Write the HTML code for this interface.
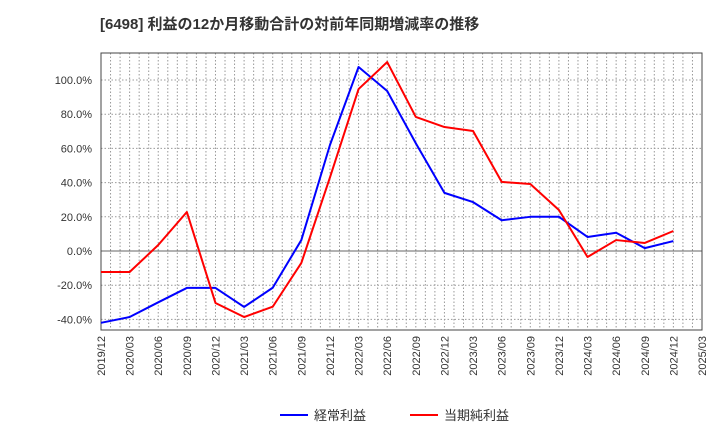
<!DOCTYPE html>
<html><head><meta charset="utf-8"><style>
body{margin:0;background:#fff;}
svg text{font-family:"Liberation Sans","Noto Sans CJK JP",sans-serif;}
</style></head><body>
<svg id="c" width="720" height="440" xmlns="http://www.w3.org/2000/svg">
<text x="100" y="29" font-size="15" font-weight="bold" fill="#333">[6498]  利益の12か月移動合計の対前年同期増減率の推移</text>
<g id="grid"></g><g id="axes"></g><g id="series"></g>
<g>
<line x1="280" y1="415" x2="308" y2="415" stroke="#0000ff" stroke-width="2"/>
<text x="314" y="420" font-size="13" fill="#333">経常利益</text>
<line x1="410" y1="415" x2="438" y2="415" stroke="#ff0000" stroke-width="2"/>
<text x="444" y="420" font-size="13" fill="#333">当期純利益</text>
</g>
</svg>
<script>
const categories=["2019/12","2020/03","2020/06","2020/09","2020/12","2021/03","2021/06","2021/09","2021/12","2022/03","2022/06","2022/09","2022/12","2023/03","2023/06","2023/09","2023/12","2024/03","2024/06","2024/09","2024/12","2025/03"];
const ordinaryProfit=[-42,-38.6,-30,-21.6,-21.6,-32.7,-21.5,6.4,62,107.6,93.6,63,34,28.6,18,20,20,8.2,10.7,1.7,5.8];
const netProfit=[-12.3,-12.3,3.5,22.8,-30.4,-38.6,-32.6,-7,43,94.7,110.5,78.4,72.5,70.2,40.4,39.2,24,-3.5,6.4,4.7,11.7];
const yTicks=[-40,-20,0,20,40,60,80,100];
const L=101,R=702,T=53,B=330,yMin=-46.2,yMax=115.8;
const NS="http://www.w3.org/2000/svg";
const xq=i=>L+i*(R-L)/(categories.length-1);
const y=v=>B-(v-yMin)/(yMax-yMin)*(B-T);
function mk(tag,at,parent){const e=document.createElementNS(NS,tag);for(const k in at)e.setAttribute(k,at[k]);parent.appendChild(e);return e;}
const g=document.getElementById('grid'),a=document.getElementById('axes'),s=document.getElementById('series');
const nMonths=(categories.length-1)*3;
for(let m=1;m<nMonths;m++){const x=L+m*(R-L)/nMonths;const l=mk('line',{x1:x,x2:x,y1:T,y2:B,stroke:'#999','stroke-dasharray':'1.5,2','stroke-width':1},g);

}
yTicks.forEach(v=>{const yy=y(v);const l=mk('line',{x1:L,x2:R,y1:yy,y2:yy,stroke:v===0?'#666':'#999','stroke-dasharray':v===0?'none':'1.5,2','stroke-width':1},g);


const t=mk('text',{x:92,y:yy+4,'text-anchor':'end','font-size':11,fill:'#333'},a);t.textContent=v.toFixed(1)+'%';

});
categories.forEach((c,i)=>{const x=xq(i);const t=mk('text',{x:0,y:0,'text-anchor':'end','font-size':11,fill:'#333',transform:`translate(${x+4},336) rotate(-90)`},a);t.textContent=c;

});
const fr=mk('rect',{x:L,y:T,width:R-L,height:B-T,fill:'none',stroke:'#444','stroke-width':1},a);


function line(data,col,name){const p=mk('polyline',{points:data.map((v,i)=>xq(i)+','+y(v)).join(' '),fill:'none',stroke:col,'stroke-width':2,'stroke-linejoin':'round'},s);

}
line(ordinaryProfit,'#0000ff','ordinary-profit-line');
line(netProfit,'#ff0000','net-profit-line');
</script>
</body></html>
